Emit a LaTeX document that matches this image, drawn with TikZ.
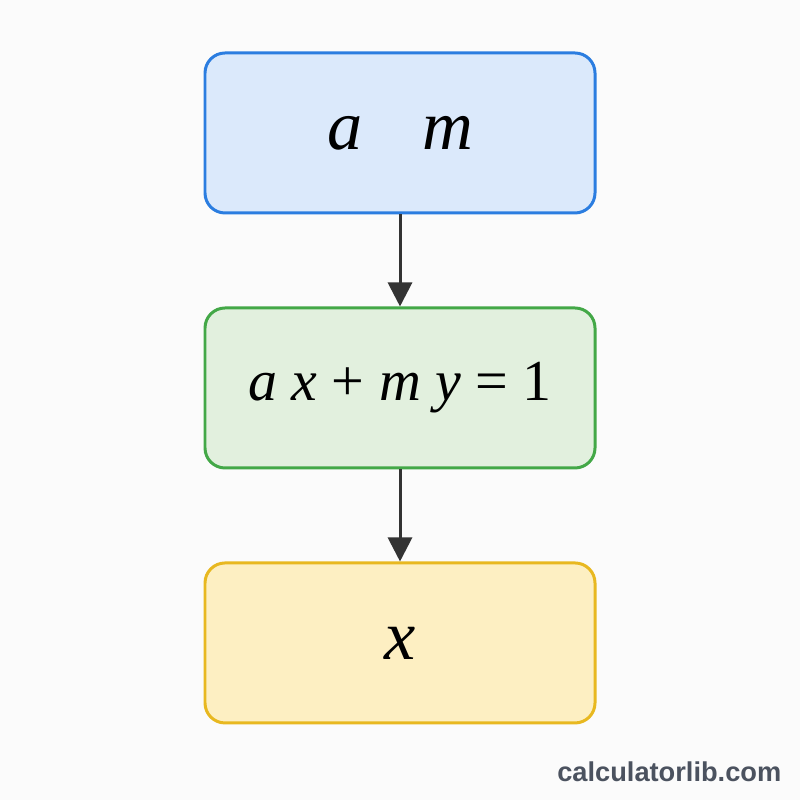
\documentclass[tikz,border=0pt]{standalone}
\usepackage{fontspec}
\setmainfont{Liberation Serif}
\newfontfamily\markfont{Liberation Sans}
\usetikzlibrary{arrows.meta, positioning}
\definecolor{topline}{RGB}{43,125,224}
\definecolor{topfill}{RGB}{219,233,251}
\definecolor{midline}{RGB}{67,168,71}
\definecolor{midfill}{RGB}{226,240,222}
\definecolor{lowline}{RGB}{232,184,32}
\definecolor{lowfill}{RGB}{253,239,194}
\definecolor{arrowgray}{RGB}{51,51,51}
\definecolor{markgray}{RGB}{75,82,95}
\definecolor{paper}{RGB}{251,251,251}
\begin{document}
\begin{tikzpicture}[
			box/.style={draw, line width=0.85pt, rounded corners=0.2cm, minimum width=3.9cm, minimum height=1.6cm, font=\fontsize{20}{24}\selectfont},
			arr/.style={draw=arrowgray, line width=0.85pt, -{Triangle[length=0.24cm, width=0.24cm]}}
		]
			\fill[paper] (0,0) rectangle (8,8);
			\useasboundingbox (0,0) rectangle (8,8);
			\node[box, draw=topline, fill=topfill] (coprime) at (4,6.67) {\textit{a}\hspace{0.85em}\textit{m}};
			\node[box, draw=midline, fill=midfill, below=0.92cm of coprime, font=\fontsize{16.5}{20}\selectfont] (bezout) {\textit{a x} + \textit{m y} = 1};
			\node[box, draw=lowline, fill=lowfill, below=0.92cm of bezout] (inverse) {\textit{x}};
			\draw[arr] (coprime) -- (bezout);
			\draw[arr] (bezout) -- (inverse);
			\node[anchor=east, inner sep=0pt, text=markgray, font=\markfont\bfseries\fontsize{7.75}{10}\selectfont] (site) at (7.82,0.28) {calculatorlib.com};
		\end{tikzpicture}
\end{document}
